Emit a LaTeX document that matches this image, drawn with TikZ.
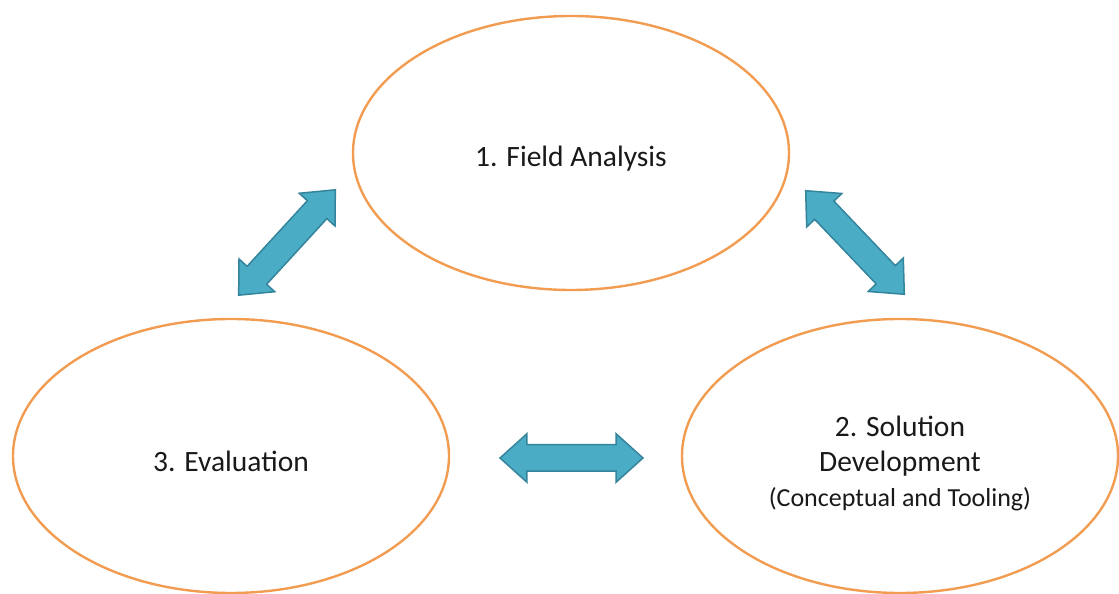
\documentclass[tikz,border=0pt]{standalone}
\usepackage{fontspec}
\setmainfont{Carlito}
\usetikzlibrary{shapes.geometric}
\usetikzlibrary{shapes.arrows}
\definecolor{bubbleorange}{RGB}{242,156,82}
\definecolor{arrowfill}{RGB}{75,172,198}
\definecolor{arrowedge}{RGB}{52,132,155}

\begin{document}
\begin{tikzpicture}[x=1pt,y=1pt,
	bubble/.style={ellipse,draw=bubbleorange,line width=2.4pt,minimum width=436pt,minimum height=274pt,inner sep=0pt,align=center,text=black!90,font=\fontsize{29.5}{35}\selectfont},
	twoway/.style={double arrow,draw=arrowedge,fill=arrowfill,line width=1.5pt,minimum height=143pt,minimum width=48pt,inner xsep=0pt,inner ysep=12.5pt,double arrow head extend=11pt,double arrow tip angle=84,sloped}]
		\useasboundingbox (0,0) rectangle (1119,594);
		\node[bubble,text height=31pt] (field) at (571,441) {1. Field Analysis};
		\node[bubble,text height=31pt] (eval) at (231,138) {3. Evaluation};
		\node[bubble] (sol) at (900,138) {\rule{0pt}{35pt}2. Solution\\Development\\{\fontsize{26}{31}\selectfont(Conceptual and Tooling)}};
		\coordinate (l1) at (237,297);
		\coordinate (l2) at (337,406);
		\coordinate (m1) at (499,136);
		\coordinate (m2) at (644,136);
		\coordinate (r1) at (805,404);
		\coordinate (r2) at (905,299);
		\path (l1) -- node[twoway] (evalfield) {} (l2);
		\path (m1) -- node[twoway] (evalsol) {} (m2);
		\path (r1) -- node[twoway] (fieldsol) {} (r2);
\end{tikzpicture}
\end{document}
